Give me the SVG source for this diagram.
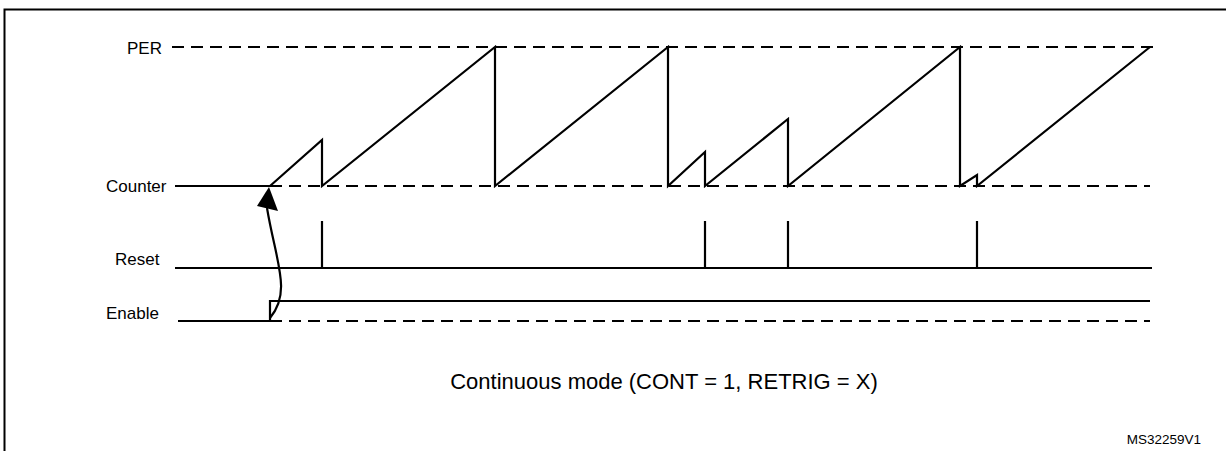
<svg xmlns="http://www.w3.org/2000/svg" width="1226" height="451" viewBox="0 0 1226 451">
<style>
.l{stroke:#000;stroke-width:2.2;fill:none}
.d{stroke:#000;stroke-width:1.8;fill:none;stroke-dasharray:12,7}
text{font-family:"Liberation Sans",Arial,sans-serif;fill:#000}
.lab{font-size:17px}
</style>
<rect x="4.5" y="9.5" width="1230" height="450" fill="none" stroke="#000" stroke-width="2"/>
<g id="labels">
<text class="lab" x="127" y="54">PER</text>
<text class="lab" x="106" y="192">Counter</text>
<text class="lab" x="115" y="265">Reset</text>
<text class="lab" x="106" y="319">Enable</text>
<text x="664" y="389" font-size="22" text-anchor="middle">Continuous mode (CONT = 1, RETRIG = X)</text>
<text x="1201" y="444" font-size="13.5" text-anchor="end">MS32259V1</text>
</g>
<g id="per"><line class="d" x1="172" y1="47" x2="1160" y2="47"/></g>
<g id="counter">
<line class="l" stroke-width="3" x1="175" y1="186" x2="270" y2="186"/>
<line class="d" x1="270" y1="186" x2="1150" y2="186"/>
<polyline class="l" points="270,186 322,140 322,186 495,47 495,186 668,47 668,186 705,152 705,186 788,119 788,186 960,47 960,186 977,175 977,186 1150,47"/>
</g>
<g id="reset">
<line class="l" x1="175" y1="268" x2="1152" y2="268"/>
<path class="l" d="M322,221V268M705,221V268M788,221V268M977,221V268"/>
</g>
<g id="enable">
<polyline class="l" points="178,321 270,321 270,301 1150,301"/>
<line class="d" x1="270" y1="321" x2="1150" y2="321"/>
</g>
<g id="connectors">
<path class="l" d="M270,318 C292,292 276,262 267,208"/>
<path d="M269,187 L257,206 L278,211 Z" fill="#000"/>
</g>
</svg>
